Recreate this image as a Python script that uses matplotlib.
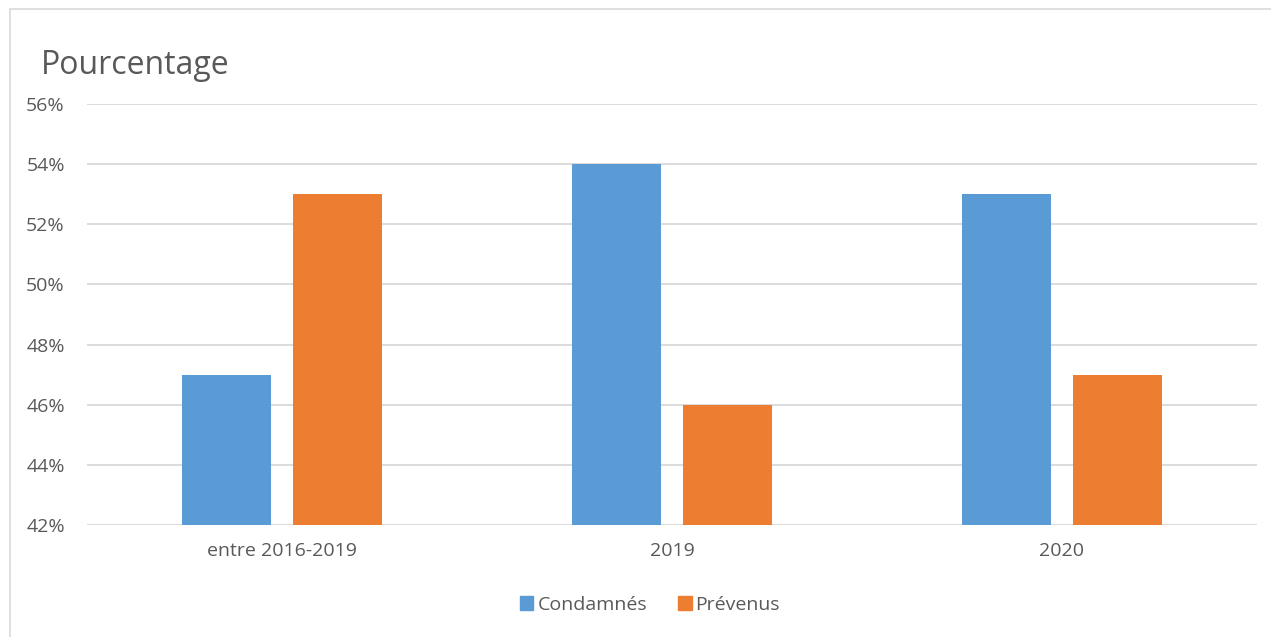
import matplotlib
matplotlib.use("Agg")
import matplotlib.pyplot as plt
from matplotlib.patches import Rectangle, Patch
import numpy as np

categories = ["entre 2016-2019", "2019", "2020"]
condamnes = [47, 54, 53]
prevenus = [53, 46, 47]
series_names = ["Condamnés", "Prévenus"]
yticks = [42, 44, 46, 48, 50, 52, 54, 56]

blue = "#5B9BD5"
orange = "#ED7D31"
txt = "#595959"
grid = "#D9D9D9"

plt.rcParams['font.family'] = ['Open Sans', 'DejaVu Sans']

W, H = 1271, 637
fig = plt.figure(figsize=(W/100, H/100), dpi=100)
fig.patches.append(Rectangle((10/W, -0.2), 1.2, 1.2 - 9/H, transform=fig.transFigure,
                             fill=False, edgecolor="#D9D9D9", lw=1.2))

ax = fig.add_axes([87/W, 1 - 525/H, (1257-87)/W, (525-104)/H])
x = np.arange(len(categories))
bw = 0.226
off = 0.1423
ax.bar(x - off, [v - 42 for v in condamnes], bottom=42, width=bw, color=blue, zorder=3, label=series_names[0])
ax.bar(x + off, [v - 42 for v in prevenus], bottom=42, width=bw, color=orange, zorder=3, label=series_names[1])

ax.set_xlim(-0.5, 2.5)
ax.set_ylim(42, 56)
ax.set_yticks(yticks)
ax.set_yticklabels([f"{t}%" for t in yticks])
ax.set_xticks(x)
ax.set_xticklabels(categories)
ax.yaxis.grid(True, color=grid, lw=1.3, zorder=0)
ax.set_axisbelow(True)
for s in ax.spines.values():
    s.set_visible(False)
ax.tick_params(axis='both', length=0, labelsize=14, colors=txt)
ax.tick_params(axis='y', pad=16)
ax.tick_params(axis='x', pad=12)

fig.text(41/W, 1 - 66/H, "Pourcentage", fontsize=23, color=txt, va='center', ha='left')

handles = [Patch(color=blue), Patch(color=orange)]
fig.legend(handles, series_names, loc='center', bbox_to_anchor=(650/W, 1 - 605/H),
           ncol=2, frameon=False, fontsize=14, labelcolor=txt,
           handlelength=0.7, handleheight=0.7, handletextpad=0.2, columnspacing=1.6)

fig.savefig("out.png", dpi=100, facecolor="white")
